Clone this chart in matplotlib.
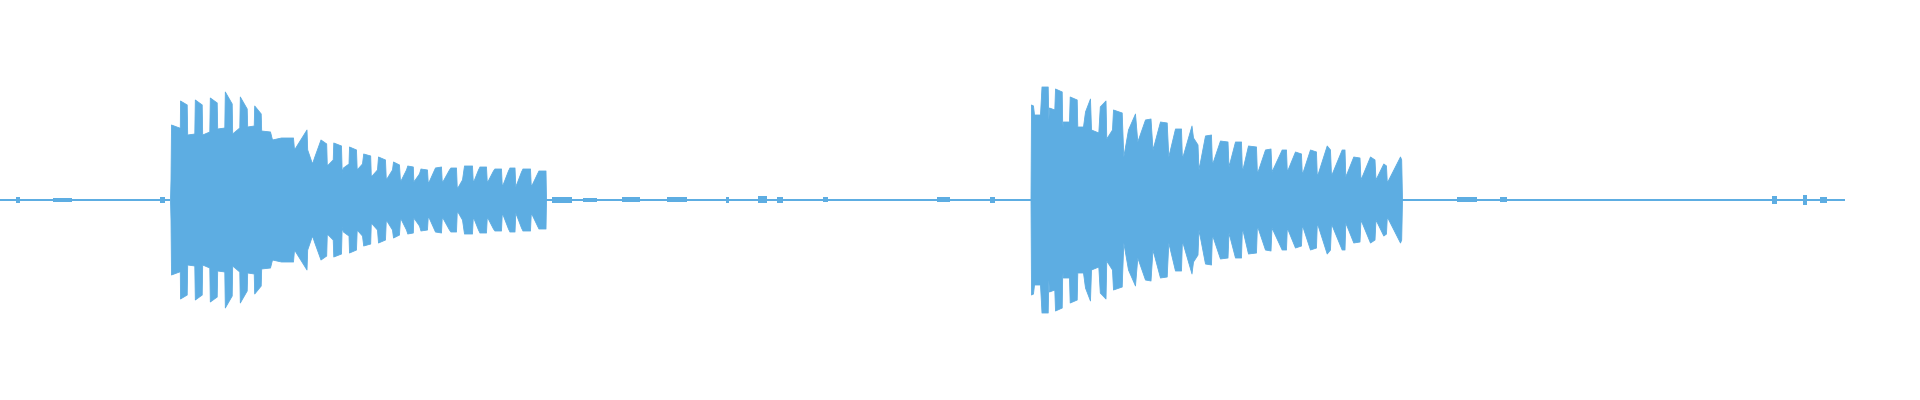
import numpy as np
import matplotlib
matplotlib.use('Agg')
import matplotlib.pyplot as plt

WAVE = '#5dade2'

# envelope vertices (x = column, amp = level on a +/-200 scale)
B1_X = [170, 170.5, 171, 179, 179.8, 180, 186.7, 187.2, 194.3, 194.8, 201.7, 202.2,
        209.3, 209.8, 216.7, 217.2, 224.3, 224.8, 231.7, 232.2, 239.3, 239.8, 246.7,
        247.2, 253.7, 254.2, 260.7, 261.2, 270, 272, 281, 293, 294, 306.5, 307.2, 312,
        314, 320.5, 326.2, 326.8, 332.7, 333.3, 341, 341.7, 343, 348.5, 349, 356, 356.7,
        362, 363.2, 370.2, 370.8, 377, 378, 385, 385.8, 392, 393, 399, 400, 406, 407.3,
        412.8, 413.4, 419, 420.5, 427, 427.8, 435, 441, 441.8, 449, 450.5, 456, 456.8,
        462, 464, 472, 472.8, 478, 479.5, 486, 486.8, 493, 494.5, 501, 501.8, 508, 509.5,
        514.5, 515.3, 521, 522.5, 530, 530.8, 537, 538.5, 545.5, 546]
B1_AMP = [0, 20, 75, 72, 72, 99, 95, 65, 66, 100, 95, 65,
          68, 102, 97, 71, 72, 108, 96, 66, 72, 103, 91,
          73, 74, 94, 86, 69, 68, 60, 62, 62, 50, 70, 50, 36,
          42, 60, 56, 34, 40, 57, 54, 27, 32, 36, 53, 50, 30,
          36, 46, 44, 23, 30, 43, 40, 20, 30, 38, 35, 18, 30, 34,
          33, 18, 26, 31, 30, 16, 32, 33, 17, 30, 32, 32, 11,
          20, 34, 34, 17, 30, 33, 33, 17, 29, 31, 31, 13, 29, 32,
          32, 13, 28, 31, 31, 13, 26, 29, 29, 0]

B2_X = [1030.5, 1031, 1033, 1034, 1040, 1041.5, 1047.7, 1048.3, 1049, 1054.3, 1055,
        1061.7, 1062.3, 1063, 1069, 1069.7, 1076.7, 1077.3, 1083, 1085, 1090, 1091,
        1098.3, 1099.8, 1105.5, 1106.3, 1112, 1113, 1121.7, 1123.3, 1128, 1135, 1137.3,
        1145, 1150.5, 1152.5, 1160, 1166.7, 1168.3, 1175, 1181, 1181.9, 1191.5, 1193,
        1197.5, 1198.5, 1205, 1211, 1211.9, 1220, 1227.5, 1228.5, 1235, 1241, 1241.9,
        1248, 1256, 1256.9, 1265, 1270.5, 1271.5, 1281.7, 1286, 1286.8, 1295, 1301,
        1301.8, 1310, 1316, 1316.8, 1326.7, 1330, 1331, 1341.7, 1344.5, 1345.3, 1353.3,
        1359.5, 1360.5, 1370, 1374.5, 1375.5, 1383.3, 1386, 1386.8, 1400, 1401.2, 1402]
B2_AMP = [0, 95, 94, 85, 85, 113, 113, 80, 92, 90, 111,
          108, 70, 78, 78, 103, 100, 73, 73, 88, 101, 70,
          67, 93, 99, 61, 70, 90, 87, 43, 70, 86, 58,
          80, 81, 50, 78, 77, 43, 71, 71, 41, 74, 62,
          55, 30, 64, 65, 35, 59, 58, 33, 58, 58, 28,
          54, 53, 26, 50, 51, 28, 50, 50, 28, 48, 46,
          25, 50, 48, 23, 54, 50, 24, 50, 50, 23, 43,
          42, 20, 43, 40, 20, 36, 34, 17, 43, 40, 0]

# quiet stretches between the notes
QUIET_START = [0, 546, 1402]
QUIET_END = [170, 1031, 1845]
# small noise blips in the quiet stretches
BLIP_START = [16, 53, 160, 552, 583, 622, 667, 726, 758, 777, 823, 937, 990,
              1457, 1500, 1772, 1803, 1820]
BLIP_END = [20, 72, 165, 572, 597, 640, 687, 729, 767, 783, 828, 950, 995,
            1477, 1507, 1777, 1807, 1827]
BLIP_AMP = [3, 2, 3, 3, 2, 2.5, 2.5, 3, 3.5, 3, 2.5, 2.5, 3,
            2.5, 2.5, 4, 5, 3]

fig = plt.figure(figsize=(19.2, 4), dpi=100)
fig.patch.set_facecolor('white')
ax = fig.add_axes([0, 0, 1, 1])
ax.set_xlim(0, 1920)
ax.set_ylim(-200.5, 199.5)
ax.axis('off')

for x0, x1 in zip(QUIET_START, QUIET_END):
    ax.fill_between([x0, x1], [1, 1], [-1, -1], color=WAVE, lw=0)
for x0, x1, a in zip(BLIP_START, BLIP_END, BLIP_AMP):
    ax.fill_between([x0, x1], [a, a], [-a, -a], color=WAVE, lw=0)

for bx, ba in [(B1_X, B1_AMP), (B2_X, B2_AMP)]:
    bx = np.array(bx); ba = np.array(ba, float)
    ax.fill_between(bx, ba, -ba, color=WAVE, lw=0.6, edgecolor=WAVE)

fig.savefig('out.png', dpi=100, facecolor='white')
